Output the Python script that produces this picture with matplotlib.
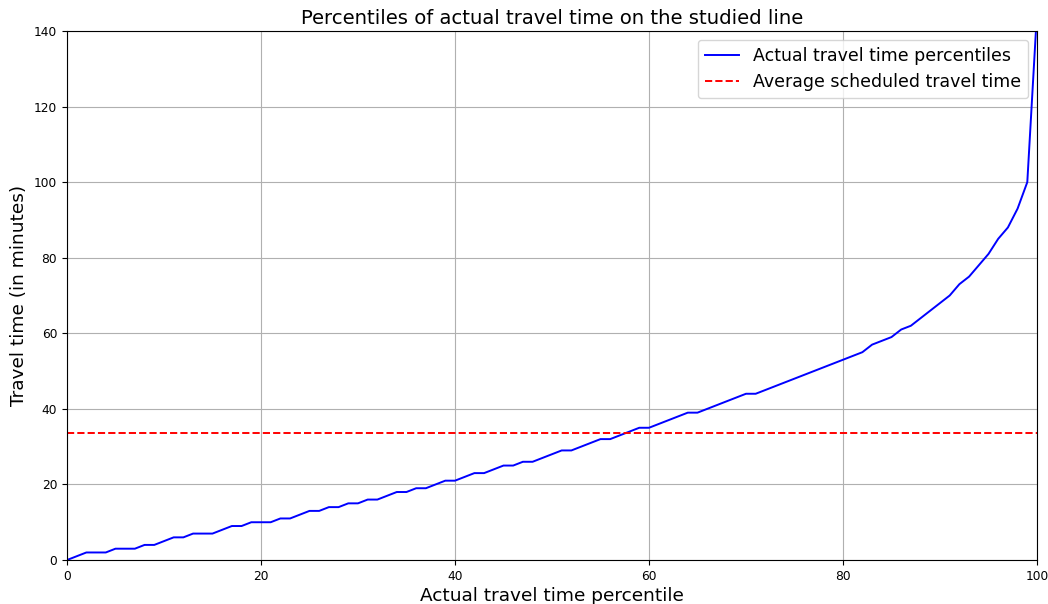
import matplotlib
matplotlib.use("Agg")
import matplotlib.pyplot as plt

percentiles = list(range(101))
travel_times = [0, 1, 2, 2, 2, 3, 3, 3, 4, 4,
                5, 6, 6, 7, 7, 7, 8, 9, 9, 10,
                10, 10, 11, 11, 12, 13, 13, 14, 14, 15,
                15, 16, 16, 17, 18, 18, 19, 19, 20, 21,
                21, 22, 23, 23, 24, 25, 25, 26, 26, 27,
                28, 29, 29, 30, 31, 32, 32, 33, 34, 35,
                35, 36, 37, 38, 39, 39, 40, 41, 42, 43,
                44, 44, 45, 46, 47, 48, 49, 50, 51, 52,
                53, 54, 55, 57, 58, 59, 61, 62, 64, 66,
                68, 70, 73, 75, 78, 81, 85, 88, 93, 100,
                145]
scheduled_avg = 33.7

fig = plt.figure(figsize=(10.48, 6.04), dpi=100)
ax = fig.add_axes([0.0639, 0.0728, 0.9256, 0.8759])
ax.plot(percentiles, travel_times, color="blue", linewidth=1.4, label="Actual travel time percentiles")
ax.axhline(scheduled_avg, color="red", linestyle="--", linewidth=1.4, label="Average scheduled travel time")
ax.set_xlim(0, 100)
ax.set_ylim(0, 140)
ax.grid(True)
ax.tick_params(labelsize=8.8)
ax.set_title("Percentiles of actual travel time on the studied line", fontsize=14.1, pad=5)
ax.set_xlabel("Actual travel time percentile", fontsize=13.3, labelpad=3)
ax.set_ylabel("Travel time (in minutes)", fontsize=13.3, labelpad=4)
ax.legend(loc="upper right", fontsize=12.5)
fig.savefig("out.png", dpi=100)
